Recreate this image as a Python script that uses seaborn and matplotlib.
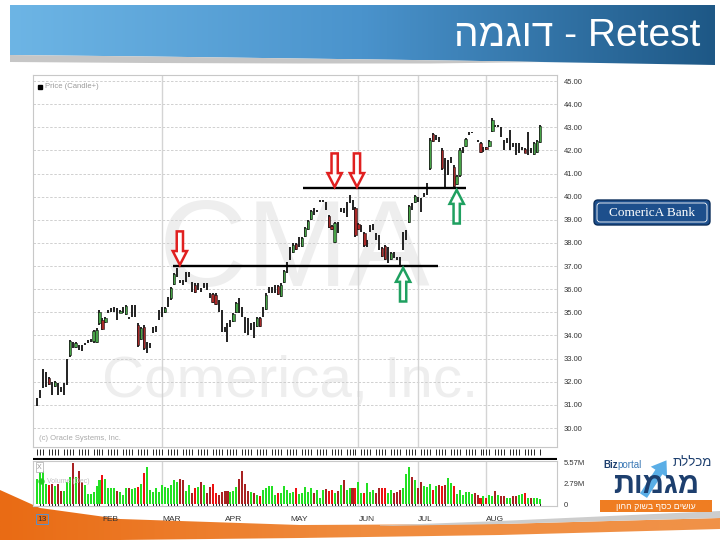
import numpy as np
import pandas as pd
import seaborn as sns
import matplotlib.pyplot as plt
from matplotlib.colors import LinearSegmentedColormap
from matplotlib.patches import Polygon, FancyBboxPatch, Rectangle

# daily prices (CMA, Jan - Aug 2013)
opens = [31.12, 31.48, 32.10, 32.10, 32.17, 31.70, 31.81, 31.70, 31.68, 31.70,
         32.40, 33.15, 33.60, 33.50, 33.48, 33.46, 33.62, 33.73, 33.78, 33.75,
         33.72, 34.52, 34.68, 34.57, 35.03, 35.10, 35.14, 34.92, 34.99, 35.09,
         34.95, 34.75, 35.06, 35.06, 34.45, 33.87, 34.35, 33.48, 33.55, 34.23,
         34.29, 34.88, 35.03, 35.00, 35.46, 35.60, 36.22, 36.72, 36.33, 36.29,
         36.54, 36.65, 36.12, 36.20, 36.12, 35.97, 36.15, 36.12, 35.72, 35.80,
         35.76, 35.28, 34.64, 34.28, 34.13, 34.52, 34.64, 35.00, 35.28, 35.03,
         34.45, 34.38, 34.38, 34.24, 34.42, 34.76, 35.03, 35.15, 35.96, 35.96,
         36.00, 36.12, 35.72, 36.30, 36.94, 37.55, 37.60, 37.94, 38.05, 37.88,
         38.31, 38.60, 39.03, 39.36, 39.39, 39.82, 39.82, 39.61, 39.15, 38.74,
         38.05, 38.67, 39.42, 39.39, 39.46, 39.89, 39.64, 39.50, 38.80, 38.63,
         38.42, 37.98, 38.63, 38.69, 38.27, 38.02, 37.80, 37.85, 37.48, 37.30,
         37.48, 37.33, 37.20, 38.10, 38.35, 38.90, 39.57, 39.75, 39.90, 39.64,
         40.08, 40.32, 41.22, 42.70, 42.56, 42.49, 42.00, 41.01, 41.26, 41.58,
         41.30, 40.55, 40.95, 42.01, 42.20, 42.74, 42.77, 42.58, 42.41, 42.33,
         42.05, 42.14, 42.19, 42.86, 43.06, 43.06, 42.82, 42.23, 42.42, 42.45,
         42.23, 42.05, 42.09, 42.09, 42.05, 42.30, 41.98, 41.85, 41.92, 42.36]
highs = [31.28, 31.64, 32.54, 32.44, 32.22, 32.00, 32.03, 31.93, 31.79, 31.96,
         32.97, 33.81, 33.73, 33.73, 33.59, 33.59, 33.66, 33.81, 33.83, 34.24,
         34.31, 35.10, 34.74, 34.81, 35.10, 35.17, 35.25, 35.17, 35.10, 35.22,
         35.32, 34.81, 35.32, 35.32, 34.53, 34.38, 34.45, 33.73, 33.66, 34.38,
         34.41, 35.10, 35.25, 35.25, 35.68, 36.11, 36.69, 36.90, 36.40, 36.40,
         36.76, 36.76, 36.33, 36.26, 36.26, 36.04, 36.26, 36.26, 35.82, 35.85,
         35.82, 35.54, 35.10, 34.38, 34.53, 34.67, 34.96, 35.46, 35.61, 35.25,
         34.81, 34.74, 34.53, 34.60, 34.81, 34.81, 35.25, 35.82, 36.11, 36.11,
         36.18, 36.18, 36.26, 36.83, 37.19, 37.84, 37.98, 37.98, 38.27, 38.27,
         38.70, 38.99, 39.43, 39.50, 39.43, 39.86, 39.86, 39.79, 39.21, 38.78,
         38.92, 38.92, 39.50, 39.50, 39.79, 40.07, 39.86, 39.57, 38.85, 38.78,
         38.49, 38.13, 38.78, 38.82, 38.42, 38.34, 37.84, 37.91, 37.84, 37.62,
         37.62, 37.41, 37.41, 38.49, 38.56, 39.64, 39.71, 40.07, 40.00, 39.93,
         40.15, 40.58, 42.52, 42.74, 42.67, 42.60, 42.09, 41.66, 41.59, 41.73,
         41.37, 40.94, 42.09, 42.16, 42.52, 42.81, 42.81, 42.60, 42.45, 42.38,
         42.16, 42.16, 42.45, 43.39, 43.10, 43.10, 43.03, 42.45, 42.52, 42.88,
         42.31, 42.31, 42.31, 42.16, 42.09, 42.81, 42.09, 42.38, 42.45, 43.10]
lows = [30.95, 31.31, 31.72, 31.79, 31.86, 31.43, 31.76, 31.43, 31.57, 31.43,
        31.86, 33.09, 33.45, 33.45, 33.37, 33.34, 33.59, 33.66, 33.73, 33.69,
        33.66, 34.45, 34.24, 34.53, 34.96, 35.03, 35.03, 34.67, 34.96, 34.96,
        34.89, 34.70, 34.81, 34.81, 33.52, 33.81, 33.37, 33.23, 33.45, 34.09,
        34.17, 34.67, 34.81, 34.96, 35.25, 35.54, 36.18, 36.54, 36.26, 36.18,
        36.33, 36.54, 35.90, 35.82, 35.97, 35.90, 36.04, 35.97, 35.61, 35.39,
        35.32, 35.03, 34.17, 34.17, 33.73, 34.38, 34.60, 34.96, 34.96, 34.81,
        34.09, 34.02, 34.24, 33.88, 34.38, 34.38, 34.81, 35.10, 35.82, 35.82,
        35.82, 35.75, 35.68, 36.26, 36.69, 37.26, 37.55, 37.70, 37.84, 37.84,
        38.27, 38.56, 38.99, 39.21, 39.35, 39.79, 39.79, 39.43, 38.63, 38.56,
        37.98, 38.42, 39.35, 39.28, 39.14, 39.71, 39.43, 38.27, 38.56, 38.49,
        37.84, 37.84, 38.49, 38.56, 38.13, 37.70, 37.41, 37.26, 37.12, 37.26,
        37.34, 37.26, 36.98, 37.70, 38.13, 38.85, 39.43, 39.71, 39.79, 39.35,
        40.00, 40.07, 41.15, 42.38, 42.45, 42.38, 41.15, 40.36, 40.94, 41.44,
        40.36, 40.51, 40.87, 41.87, 42.16, 42.67, 42.74, 42.57, 42.38, 41.87,
        41.95, 42.02, 42.16, 42.81, 43.03, 43.03, 42.60, 42.02, 42.31, 42.02,
        42.16, 41.80, 41.87, 42.02, 41.87, 41.80, 41.87, 41.80, 41.87, 42.31]
closes = [31.12, 31.48, 32.10, 32.10, 31.91, 31.70, 31.98, 31.70, 31.68, 31.70,
          32.40, 33.75, 33.60, 33.68, 33.48, 33.46, 33.62, 33.73, 33.78, 34.18,
          34.25, 35.03, 34.30, 34.76, 35.03, 35.10, 35.14, 34.92, 35.07, 35.09,
          35.26, 34.75, 35.06, 35.06, 33.60, 34.32, 33.45, 33.48, 33.55, 34.23,
          34.29, 34.88, 35.03, 35.20, 35.46, 36.05, 36.64, 36.72, 36.33, 36.29,
          36.54, 36.65, 36.12, 35.88, 36.12, 35.97, 36.15, 36.12, 35.72, 35.45,
          35.38, 35.28, 34.64, 34.28, 34.13, 34.52, 34.91, 35.40, 35.28, 35.03,
          34.45, 34.38, 34.38, 34.24, 34.76, 34.42, 35.03, 35.76, 35.96, 35.96,
          36.00, 35.80, 36.20, 36.78, 36.94, 37.55, 37.92, 37.74, 38.05, 38.22,
          38.65, 38.94, 39.38, 39.36, 39.39, 39.82, 39.82, 39.61, 38.68, 38.60,
          38.85, 38.67, 39.42, 39.39, 39.46, 39.89, 39.64, 38.35, 38.60, 38.63,
          37.90, 37.98, 38.63, 38.69, 38.27, 38.02, 37.45, 37.32, 37.48, 37.58,
          37.48, 37.33, 37.20, 38.10, 38.35, 39.58, 39.57, 40.02, 39.90, 39.64,
          40.08, 40.32, 42.45, 42.42, 42.56, 42.49, 41.25, 41.01, 41.26, 41.58,
          40.45, 40.90, 42.00, 42.01, 42.48, 42.74, 42.77, 42.58, 42.41, 41.92,
          42.05, 42.04, 42.42, 43.33, 43.06, 43.06, 42.82, 42.23, 42.42, 42.45,
          42.23, 42.05, 42.09, 42.09, 41.90, 42.30, 41.98, 42.32, 42.40, 43.05]
# volume in millions of shares
volume_m = [3.45, 4.77, 4.55, 2.78, 2.56, 2.78, 2.48, 2.78, 1.77, 1.77, 3.00, 3.67,
            5.57, 3.67, 4.55, 3.00, 2.56, 1.33, 1.33, 1.68, 2.48, 3.23, 3.98, 3.36,
            2.21, 2.12, 2.21, 1.77, 1.68, 1.24, 2.12, 2.12, 2.03, 2.12, 2.34, 2.78,
            4.24, 5.00, 1.90, 1.68, 2.12, 1.68, 2.56, 2.34, 2.21, 2.56, 3.23, 3.00,
            3.36, 3.23, 1.77, 2.56, 1.46, 2.12, 2.34, 3.00, 2.56, 1.46, 2.34, 2.78,
            1.46, 1.24, 1.59, 1.77, 1.77, 1.68, 1.77, 2.34, 3.36, 4.55, 2.78, 1.77,
            1.59, 1.46, 1.24, 1.02, 1.90, 2.21, 2.48, 2.48, 1.24, 1.46, 1.46, 2.43,
            1.90, 1.46, 1.68, 2.21, 1.33, 1.46, 2.34, 1.68, 2.21, 1.46, 1.90, 0.88,
            1.90, 2.03, 1.77, 1.90, 1.46, 1.77, 2.56, 3.23, 1.90, 2.21, 2.12, 2.12,
            3.00, 1.46, 1.46, 2.92, 1.68, 1.90, 1.46, 2.12, 2.12, 2.12, 1.46, 1.90,
            1.46, 1.68, 1.90, 2.21, 4.11, 5.00, 3.67, 3.23, 2.12, 3.00, 2.48, 2.34,
            2.78, 1.90, 2.48, 2.56, 2.48, 2.56, 3.54, 2.92, 2.48, 1.33, 1.90, 1.24,
            1.59, 1.68, 1.33, 1.46, 1.24, 0.88, 1.15, 0.80, 1.24, 1.02, 1.77, 1.24,
            1.02, 1.02, 0.88, 0.80, 1.02, 1.15, 1.24, 1.33, 1.46, 0.88, 0.88, 0.80,
            0.80, 0.70]

price_ticks = [30, 31, 32, 33, 34, 35, 36, 37, 38, 39, 40, 41, 42, 43, 44, 45]
month_labels = ['13', 'FEB', 'MAR', 'APR', 'MAY', 'JUN', 'JUL', 'AUG']
grid_months = ['MAR', 'JUN', 'JUL', 'AUG']
vol_ticks = [0, 2.79, 5.57]
vol_labels = ['0', '2.79M', '5.57M']

# retest drawing: support/resistance levels (trading-day index spans) and arrows
levels = [37.0, 40.37]
level_from = [45.7, 89.4]
level_to = [134.7, 144.2]
down_x = [48, 100, 107.5]
down_level = [37.0, 40.37, 40.37]
up_x = [123, 141]
up_level = [37.0, 40.37]

title = 'דוגמה'[::-1] + ' - Retest'

sns.set_style('white')
plt.rcParams['font.family'] = ['Liberation Sans', 'DejaVu Sans']

df = pd.DataFrame({'open': opens, 'high': highs, 'low': lows, 'close': closes, 'volume': volume_m})
df['date'] = pd.bdate_range('2013-01-02', periods=len(df))
df['i'] = np.arange(len(df))
df['lab'] = df['i'].astype(str)
prev = df['close'].shift(1).fillna(df['open'])
df['vcol'] = np.where(df['close'] >= prev, '#22e022',
                      np.where(df['close'] < df['open'], '#ee1111', '#a82222'))

month_pos = list(df.index[df['date'].dt.month.diff().fillna(1) != 0])
tick_idx = df.index[df['date'].dt.weekday != 0]
XL = (-1.34, 174.7)

fig = plt.figure(figsize=(7.2, 5.4), dpi=100)

# slide background (pixel coordinates)
bg = fig.add_axes([0, 0, 1, 1])
banner = Polygon([(10, 5), (715, 5), (715, 65), (600, 63), (450, 60.5), (300, 58.5),
                  (150, 56.5), (10, 55)], closed=True, fc='none', ec='none')
bg.add_patch(banner)
blue = LinearSegmentedColormap.from_list('blue', ['#6db5e5', '#4a93cc', '#1e5886'])
im = bg.imshow(np.linspace(0, 1, 256)[None, :], cmap=blue, extent=[10, 715, 66, 5], aspect='auto')
im.set_clip_path(banner)
bg.add_patch(Polygon([(10, 55), (150, 56.5), (300, 58.5), (450, 60.5), (545, 62), (430, 63.5),
                      (300, 63.5), (150, 63), (10, 62)], closed=True, fc='#c6c6c6', ec='none'))
bg.text(700, 46, title, color='white', fontsize=28, ha='right', va='baseline')

swoosh = Polygon([(0, 490), (40, 508), (120, 519), (300, 525), (500, 524), (720, 518),
                  (720, 529), (500, 535), (300, 538), (120, 540), (0, 540)],
                 closed=True, fc='none', ec='none')
bg.add_patch(swoosh)
orange = LinearSegmentedColormap.from_list('orange', ['#e96b14', '#f08c3e', '#f09248'])
im2 = bg.imshow(np.linspace(0, 1, 256)[None, :], cmap=orange, extent=[0, 720, 540, 488], aspect='auto')
im2.set_clip_path(swoosh)
bg.add_patch(Polygon([(380, 525.5), (500, 521), (720, 511), (720, 518), (500, 524), (380, 526)],
                     closed=True, fc='#cdcdcd', ec='none'))

# watermark
bg.text(295, 254, 'CMA', fontsize=88, color='#eeeeee', ha='center', va='center')
bg.text(290, 382, 'Comerica, Inc.', fontsize=42, color='#eeeeee', ha='center', va='center')

# Comerica logo
bg.add_patch(FancyBboxPatch((594, 200), 116, 25, boxstyle='round,pad=0,rounding_size=4',
                            fc='#1d4f8c', ec='#0d2f5c', lw=1))
bg.add_patch(FancyBboxPatch((597, 203), 110, 19, boxstyle='round,pad=0,rounding_size=3',
                            fc='none', ec='white', lw=0.6))
bg.text(652, 212.5, 'ComericA Bank', color='white', fontsize=9.5,
        family=['Liberation Serif', 'DejaVu Serif'], ha='center', va='center')

# college logo
bg.annotate('', xy=(668, 458), xytext=(642, 498),
            arrowprops=dict(arrowstyle='simple,head_width=1.4,head_length=1.0,tail_width=0.6',
                            color='#5aaee6', lw=0))
bg.text(603, 465, 'Biz', fontsize=7, weight='bold', color='#1d3f6e', ha='left', va='center')
bg.text(617, 465, 'portal', fontsize=7, color='#3a78b5', ha='left', va='center')
bg.text(712, 463, 'מכללת'[::-1], fontsize=9.5, color='#1d3f6e', ha='right', va='center')
bg.text(656, 485, 'מגמות'[::-1], fontsize=21, weight='bold', color='#1d3f6e', ha='center', va='center')
bg.add_patch(Rectangle((600, 500), 112, 12, fc='#ef7d22', ec='none'))
bg.text(656, 506.5, 'עושים כסף בשוק ההון'[::-1], fontsize=6.3, color='white', ha='center', va='center')

bg.set_xlim(0, 720)
bg.set_ylim(540, 0)
bg.axis('off')

# price panel
ax = fig.add_axes([33 / 720, 1 - 447 / 540, 524 / 720, 372 / 540])
ax.set_facecolor('none')
for p in price_ticks:
    ax.axhline(p, color='#c9c9c9', lw=0.6, ls=(0, (3, 2)), zorder=0)
for m in grid_months:
    ax.axvline(month_pos[month_labels.index(m)], color='#d4d4d4', lw=1.0, zorder=0)

up = df[df['close'] > df['open']]
dn = df[df['close'] < df['open']]
ax.vlines(df['i'], df['low'], df['high'], color='#111111', lw=1.3, zorder=3)
ax.bar(up['i'], up['close'] - up['open'], bottom=up['open'], width=0.8,
       color='#46a346', edgecolor='#111111', linewidth=0.4, zorder=4)
ax.bar(dn['i'], dn['open'] - dn['close'], bottom=dn['close'], width=0.8,
       color='#a82828', edgecolor='#111111', linewidth=0.4, zorder=4)

for lvl, a, b in zip(levels, level_from, level_to):
    ax.hlines(lvl, a, b, color='black', lw=1.7, zorder=6)


def hollow_arrow(x, lvl, s, color):
    # s=+1: body above the level pointing down, s=-1: body below pointing up
    hw, sw, hh, ln = 2.4, 1.05, 0.6 * s, 1.45 * s
    pts = [(x, lvl), (x - hw, lvl + hh), (x - sw, lvl + hh), (x - sw, lvl + ln),
           (x + sw, lvl + ln), (x + sw, lvl + hh), (x + hw, lvl + hh)]
    ax.add_patch(Polygon(pts, closed=True, fc='white', ec=color, lw=1.8, zorder=7))


for x, lvl in zip(down_x, down_level):
    hollow_arrow(x, lvl + 0.05, 1, '#e02020')
for x, lvl in zip(up_x, up_level):
    hollow_arrow(x, lvl - 0.08, -1, '#1fa060')

ax.set_xlim(XL)
ax.set_ylim(29.18, 45.26)
ax.yaxis.tick_right()
ax.set_yticks(price_ticks, [f'{p:.2f}' for p in price_ticks])
ax.tick_params(axis='y', length=0, pad=5, labelsize=5.5, labelcolor='#333333')
ax.set_xticks([])
for s in ax.spines.values():
    s.set_color('#c8c8c8')
    s.set_linewidth(0.8)
ax.plot(0.013, 0.968, 's', ms=3.2, color='black', transform=ax.transAxes, clip_on=False)
ax.text(0.022, 0.968, 'Price (Candle+)', transform=ax.transAxes, fontsize=5.5,
        color='#9a9a9a', va='center')
ax.text(0.012, 0.024, '(c) Oracle Systems, Inc.', transform=ax.transAxes, fontsize=5.5,
        color='#aaaaaa', va='center')

# day tick row between the panels
tk = fig.add_axes([33 / 720, 1 - 460 / 540, 524 / 720, 13 / 540])
tk.vlines(tick_idx, 0.35, 0.85, color='#222222', lw=0.7)
tk.axhline(0.04, color='black', lw=1.5)
tk.set_xlim(XL)
tk.set_ylim(0, 1)
tk.axis('off')

# volume panel
vax = fig.add_axes([33 / 720, 1 - 506 / 540, 524 / 720, 45 / 540])
sns.barplot(data=df, x='i', y='volume', hue='lab', palette=dict(zip(df['lab'], df['vcol'])),
            native_scale=True, dodge=False, legend=False, errorbar=None, width=0.68,
            saturation=1, linewidth=0, ax=vax)
for bar in vax.patches:
    bar.set_antialiased(False)
for m in grid_months:
    vax.axvline(month_pos[month_labels.index(m)], color='#d4d4d4', lw=1.0, zorder=0)
vax.set_xlim(XL)
vax.set_ylim(-0.27, 5.84)
vax.set_xlabel('')
vax.set_ylabel('')
vax.yaxis.tick_right()
vax.set_yticks(vol_ticks, vol_labels)
vax.tick_params(axis='y', length=0, pad=5, labelsize=5.5, labelcolor='#333333')
vax.set_xticks(month_pos, month_labels)
vax.tick_params(axis='x', which='major', length=0, pad=7, labelsize=6, labelcolor='#333333')
for t in vax.get_xticklabels():
    t.set_ha('left')
vax.get_xticklabels()[0].set_bbox(dict(boxstyle='square,pad=0.15', fc='none', ec='#5b8fc7', lw=0.7))
vax.set_xticks(tick_idx, minor=True)
vax.tick_params(axis='x', which='minor', direction='in', length=3.5, width=0.7,
                color='#222222', bottom=True)
for s in vax.spines.values():
    s.set_color('#c8c8c8')
    s.set_linewidth(0.8)
vax.text(0.008, 0.86, 'X', transform=vax.transAxes, fontsize=5, color='#999999', va='center',
         bbox=dict(boxstyle='square,pad=0.2', fc='white', ec='#aaaaaa', lw=0.5))
vax.plot(0.016, 0.55, 'o', ms=3.5, color='#22cc22', transform=vax.transAxes)
vax.text(0.026, 0.55, 'Volume (Dec)', transform=vax.transAxes, fontsize=5, color='#c0c0c0',
         va='center')

fig.savefig('out.png', dpi=100)
